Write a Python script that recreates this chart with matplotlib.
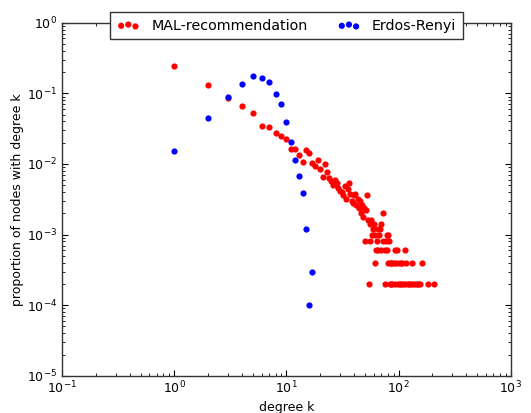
import numpy as np
import matplotlib
matplotlib.use("Agg")
import matplotlib.pyplot as plt

# MAL-recommendation degree distribution
mal_k = [1, 2, 3, 4, 5, 6, 7, 8, 9, 10,
         11, 12, 13, 14, 15, 16, 17, 18, 19, 20,
         21, 22, 23, 24, 25, 26, 27, 28, 29, 30,
         31, 32, 33, 34, 35, 36, 37, 38, 39, 40,
         41, 42, 43, 44, 45, 46, 47, 48, 49, 50,
         51, 52, 53, 54, 55, 56, 57, 58, 59, 60,
         61, 62, 63, 64, 65, 66, 67, 68, 69, 70,
         72, 73, 75, 76, 77, 78, 79, 80, 81, 82,
         83, 84, 85, 86, 87, 88, 90, 92, 93, 95,
         96, 98, 100, 102, 104, 106, 108, 110, 113, 115,
         117, 120, 124, 128, 132, 135, 140, 145, 150, 155,
         160, 182, 206]
mal_p = [0.244, 0.132, 0.085, 0.0667, 0.053, 0.0344, 0.0336, 0.0277, 0.0246, 0.0223,
         0.0164, 0.0164, 0.0136, 0.0106, 0.0156, 0.0144, 0.0102, 0.0094, 0.0114, 0.0084,
         0.0066, 0.0100, 0.0076, 0.0064, 0.0058, 0.0050, 0.0060, 0.0054, 0.0046, 0.0042,
         0.0040, 0.0036, 0.0048, 0.0032, 0.0044, 0.0054, 0.0038, 0.0030, 0.0028, 0.0036,
         0.0038, 0.0026, 0.0032, 0.0024, 0.0030, 0.0020, 0.0026, 0.0018, 0.0024, 0.0008,
         0.0022, 0.0036, 0.0016, 0.0002, 0.0014, 0.0008, 0.0016, 0.0010, 0.0012, 0.0014,
         0.0004, 0.0010, 0.0006, 0.0008, 0.0012, 0.0006, 0.0010, 0.0012, 0.0006, 0.0014,
         0.0008, 0.0020, 0.0006, 0.0002, 0.0008, 0.0010, 0.0006, 0.0004, 0.0010, 0.0008,
         0.0004, 0.0002, 0.0004, 0.0002, 0.0004, 0.0002, 0.0004, 0.0006, 0.0002, 0.0004,
         0.0006, 0.0002, 0.0004, 0.0002, 0.0004, 0.0002, 0.0004, 0.0002, 0.0006, 0.0002,
         0.0004, 0.0002, 0.0002, 0.0002, 0.0004, 0.0002, 0.0002, 0.0002, 0.0002, 0.0002,
         0.0004, 0.0002, 0.0002]

# Erdos-Renyi degree distribution
er_k = [1, 2, 3, 4, 5, 6, 7, 8, 9, 10, 11, 12, 13, 14, 15, 16, 17]
er_p = [0.0152, 0.045, 0.0895, 0.134, 0.174, 0.165, 0.146, 0.098, 0.0713, 0.0396,
        0.0204, 0.01135, 0.00667, 0.00383, 0.0012, 0.0001, 0.0003]

plt.rcParams['font.family'] = 'DejaVu Sans'

fig = plt.figure(figsize=(5.31, 4.13), dpi=100)
ax = fig.add_axes([0.117, 0.090, 0.845, 0.855])

ax.scatter(mal_k, mal_p, s=20, c='#ff0000', linewidths=0, label='MAL-recommendation', zorder=3)
ax.scatter(er_k, er_p, s=20, c='#0000ff', linewidths=0, label='Erdos-Renyi', zorder=3)

ax.set_xscale('log')
ax.set_yscale('log')
ax.set_xlim(1e-1, 1e3)
ax.set_ylim(1e-5, 1e0)

ax.tick_params(which='both', direction='in', top=True, right=True, labelsize=9)
ax.tick_params(which='major', length=4)
ax.tick_params(which='minor', length=2)
ax.tick_params(axis='x', pad=3)
for sp in ax.spines.values():
    sp.set_linewidth(1.0)
    sp.set_color('#333333')

ax.set_xlabel('degree k', fontsize=9, labelpad=3)
ax.set_ylabel('proportion of nodes with degree k', fontsize=9, labelpad=2)

leg = ax.legend(loc='upper center', bbox_to_anchor=(0.5, 1.03), ncol=2,
                scatterpoints=3, scatteryoffsets=[0.375, 0.5, 0.3125],
                fancybox=False, framealpha=1, edgecolor='#333333',
                borderaxespad=0, fontsize=10.3, columnspacing=2.1,
                handlelength=1.6, handletextpad=0.8, borderpad=0.45)
leg.get_frame().set_linewidth(1.0)

fig.savefig('out.png', dpi=100, facecolor='white')
